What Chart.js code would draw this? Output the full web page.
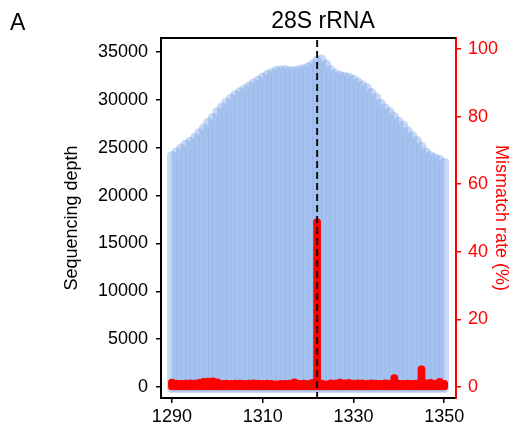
<!DOCTYPE html>
<html>
<head>
<meta charset="utf-8">
<script src="https://cdn.jsdelivr.net/npm/chart.js@4.4.1/dist/chart.umd.min.js"></script>
<style>
  html, body { margin: 0; padding: 0; background: #fff; }
  #chart { display: block; }
</style>
</head>
<body>
<canvas id="chart" width="514" height="432"></canvas>
<script>
// 28S rRNA - depth + mismatch around site 1322

const positions = [];
for (let p = 1290; p <= 1350; p++) positions.push(p);

const depth = [
  24600, 25000, 25400, 25800, 26100, 26500, 27000, 27500, 28100, 28600,
  29200, 29700, 30200, 30600, 31000, 31300, 31600, 31900, 32200, 32500,
  32800, 33100, 33300, 33500, 33600, 33600, 33500, 33500, 33600, 33700,
  33900, 34200, 34600, 34700, 34200, 33600, 33200, 33000, 32900, 32800,
  32600, 32300, 32000, 31700, 31200, 30700, 30100, 29600, 29200, 28700,
  28200, 27800, 27200, 26700, 26200, 25600, 25000, 24600, 24400, 24200,
  23900
];

const mismatch = [
  2.3, 2.0, 1.9, 2.0, 2.1, 2.0, 2.2, 2.5, 2.6, 2.7,
  2.4, 1.9, 2.0, 1.9, 2.0, 2.0, 1.9, 2.0, 2.1, 2.0,
  1.9, 2.0, 1.9, 1.8, 1.9, 1.9, 2.0, 2.4, 1.9, 2.0,
  1.9, 2.2, 49.8, 2.0, 1.8, 2.1, 2.0, 2.3, 2.1, 2.2,
  2.0, 2.1, 2.1, 1.9, 2.1, 2.0, 1.9, 2.1, 2.0, 3.6,
  2.0, 1.9, 2.0, 1.9, 2.0, 6.2, 2.1, 2.2, 1.9, 2.5,
  1.9
];

const xTicks = [1290, 1310, 1330, 1350];
const depthTicks = [0, 5000, 10000, 15000, 20000, 25000, 30000, 35000];
const rateTicks = [0, 20, 40, 60, 80, 100];
const sitePos = 1322;

const FONT = '"Liberation Sans", Arial, Helvetica, sans-serif';

const overlay = {
  id: 'overlay',
  afterDatasetsDraw(chart) {
    const {ctx, chartArea: a, scales} = chart;
    const x = scales.x.getPixelForValue(sitePos);
    ctx.save();
    // dashed marker
    ctx.strokeStyle = '#111';
    ctx.lineWidth = 2;
    ctx.setLineDash([7, 4]);
    ctx.beginPath();
    ctx.moveTo(x, a.top + 2);
    ctx.lineTo(x, a.bottom);
    ctx.stroke();
    ctx.setLineDash([]);
    // top frame
    ctx.strokeStyle = '#000';
    ctx.lineWidth = 2;
    ctx.beginPath();
    ctx.moveTo(a.left, a.top);
    ctx.lineTo(a.right, a.top);
    ctx.stroke();
    // panel letter + title
    ctx.fillStyle = '#000';
    ctx.textBaseline = 'alphabetic';
    ctx.textAlign = 'left';
    ctx.font = '23px ' + FONT;
    ctx.fillText('A', 10, 30);
    ctx.textAlign = 'center';
    ctx.fillText('28S rRNA', 323, 28);
    ctx.restore();
  }
};

const tickFont = {family: FONT, size: 18};
const plain = v => String(v);

new Chart(document.getElementById('chart').getContext('2d'), {
  type: 'bar',
  data: {
    datasets: [
      {
        label: 'Mismatch rate',
        data: positions.map((p, i) => ({x: p, y: mismatch[i]})),
        yAxisID: 'y1',
        backgroundColor: '#ff0000',
        barThickness: 7,
        borderRadius: 3.5,
        borderSkipped: false,
        base: -0.9,
        grouped: false,
        order: 1
      },
      {
        label: 'Sequencing depth',
        data: positions.map((p, i) => ({x: p, y: depth[i]})),
        yAxisID: 'y',
        backgroundColor: 'rgba(115,160,230,0.4)',
        barThickness: 9,
        borderRadius: 4.5,
        borderSkipped: false,
        base: -600,
        grouped: false,
        order: 2
      }
    ]
  },
  options: {
    responsive: false,
    animation: false,
    layout: {padding: {top: 38, left: 0, right: 0, bottom: 0}},
    plugins: {legend: {display: false}, tooltip: {enabled: false}, title: {display: false}},
    scales: {
      x: {
        type: 'linear',
        offset: false,
        min: 1287.6,
        max: 1352.6,
        afterBuildTicks: s => { s.ticks = xTicks.map(v => ({value: v})); },
        afterFit: s => { s.height = 34; },
        grid: {display: true, offset: false, drawOnChartArea: false, drawTicks: true, tickLength: 5, color: '#000', lineWidth: 1.5},
        border: {display: true, color: '#000', width: 2},
        ticks: {color: '#000', font: tickFont, padding: 3, maxRotation: 0, callback: plain}
      },
      y: {
        position: 'left',
        min: -1150,
        max: 36470,
        afterBuildTicks: s => { s.ticks = depthTicks.map(v => ({value: v})); },
        afterFit: s => { s.width = 161; },
        grid: {display: true, drawOnChartArea: false, drawTicks: true, tickLength: 5, color: '#000', lineWidth: 1.5},
        border: {display: true, color: '#000', width: 2},
        ticks: {color: '#000', font: tickFont, padding: 8, callback: plain},
        title: {display: true, text: 'Sequencing depth', color: '#000', font: {family: FONT, size: 18}, padding: {top: 61, bottom: 0}}
      },
      y1: {
        position: 'right',
        min: -3.3,
        max: 103.3,
        afterBuildTicks: s => { s.ticks = rateTicks.map(v => ({value: v})); },
        afterFit: s => { s.width = 58; },
        grid: {display: true, drawOnChartArea: false, drawTicks: true, tickLength: 5, color: '#ff0000', lineWidth: 1.5},
        border: {display: true, color: '#ff0000', width: 2},
        ticks: {color: '#ff0000', font: tickFont, padding: 7, callback: plain},
        title: {display: true, text: 'Mismatch rate (%)', color: '#ff0000', font: {family: FONT, size: 18}, padding: {top: 2, bottom: 0}}
      }
    }
  },
  plugins: [overlay]
});
</script>
</body>
</html>
